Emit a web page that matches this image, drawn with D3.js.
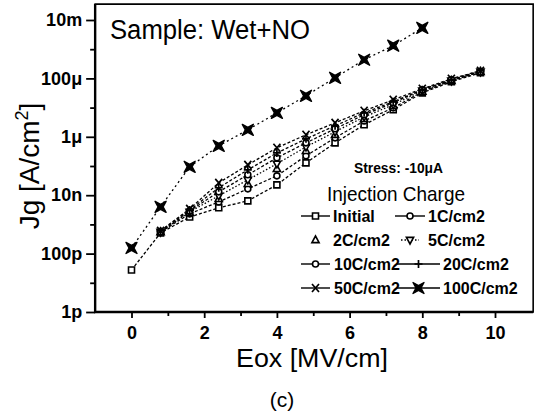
<!DOCTYPE html>
<html>
<head>
<meta charset="utf-8">
<script src="https://cdn.jsdelivr.net/npm/d3@7"></script>
<style>
  html, body { margin: 0; padding: 0; background: #fff; }
  svg { display: block; font-family: "Liberation Sans", Arial, sans-serif; }
</style>
</head>
<body>
<svg id="chart" width="537" height="417"></svg>
<script>
// Gate current density Jg (A/cm^2) vs oxide field Eox (MV/cm) after
// increasing amounts of injected charge at -10 uA stress.
const eoxField = [0, 0.8, 1.6, 2.4, 3.2, 4.0, 4.8, 5.6, 6.4, 7.2, 8.0, 8.8, 9.6];

const jgInitial = [2.75e-11, 5.1e-10, 1.8e-9, 3.7e-9, 6.4e-9, 2.26e-8, 1.28e-7, 6.2e-7, 2.58e-6, 8.4e-6, 3.2e-5, 7.7e-5, 1.56e-4];
const jg1C   = [null, 5.5e-10, 2.3e-9, 5.9e-9, 1.65e-8, 4.6e-8, 2.23e-7, 9.2e-7, 3.5e-6, 9.8e-6, 3.5e-5, 8.3e-5, 1.69e-4];
const jg2C   = [null, 5.5e-10, 2.5e-9, 7.5e-9, 2.44e-8, 8.0e-8, 3.3e-7, 1.17e-6, 4.1e-6, 1.15e-5, 3.5e-5, 8.3e-5, 1.69e-4];
const jg5C   = [null, 5.5e-10, 2.7e-9, 9.5e-9, 3.35e-8, 1.19e-7, 4.5e-7, 1.48e-6, 4.8e-6, 1.25e-5, 3.8e-5, 8.3e-5, 1.69e-4];
const jg10C  = [null, 5.5e-10, 2.9e-9, 1.3e-8, 5.0e-8, 1.9e-7, 6.2e-7, 1.88e-6, 5.7e-6, 1.46e-5, 4.1e-5, 9.0e-5, 1.69e-4];
const jg20C  = [null, 6.0e-10, 3.1e-9, 1.8e-8, 7.4e-8, 2.8e-7, 8.5e-7, 2.38e-6, 6.6e-6, 1.58e-5, 4.1e-5, 9.0e-5, 1.83e-4];
const jg50C  = [null, 6.0e-10, 3.4e-9, 2.64e-8, 1.09e-7, 4.2e-7, 1.17e-6, 3.0e-6, 7.8e-6, 1.85e-5, 4.4e-5, 9.7e-5, 1.83e-4];
const jg100C = [1.56e-10, 4.0e-9, 9.4e-8, 4.9e-7, 1.73e-6, 6.6e-6, 2.54e-5, 1.05e-4, 4.35e-4, 1.32e-3, 5.4e-3, null, null];

const seriesLabels = ["Initial", "1C/cm2", "2C/cm2", "5C/cm2", "10C/cm2", "20C/cm2", "50C/cm2", "100C/cm2"];
const seriesValues = [jgInitial, jg1C, jg2C, jg5C, jg10C, jg20C, jg50C, jg100C];
const seriesShapes = ["square", "circle", "triUp", "triDown", "circle", "plus", "cross", "star"];

const xTickValues = [0, 2, 4, 6, 8, 10];
const xMinorTicks = [1, 3, 5, 7, 9];
const yTickValues = [1e-2, 1e-4, 1e-6, 1e-8, 1e-10, 1e-12];
const yTickLabels = ["10m", "100\u03bc", "1\u03bc", "10n", "100p", "1p"];
const yMinorTicks = [1e-3, 1e-5, 1e-7, 1e-9, 1e-11];

const svg = d3.select("#chart");
svg.append("rect").attr("width", 537).attr("height", 417).attr("fill", "#fff");

const x = d3.scaleLinear().domain([0, 10]).range([131.5, 495]);
const y = d3.scaleLog().domain([1e-12, 1e-2]).range([312, 20]);

const frameL = x(-1), frameR = x(11.05), frameT = y(3.5e-2), frameB = y(1e-12);

// ---- axes ----
const yAxis = svg.append("g").attr("transform", `translate(${frameL},0)`)
  .call(d3.axisLeft(y).tickValues(yTickValues).tickFormat((d, i) => yTickLabels[i]).tickSize(9).tickPadding(4));
const yMinor = svg.append("g").attr("transform", `translate(${frameL},0)`)
  .call(d3.axisLeft(y).tickValues(yMinorTicks).tickFormat("").tickSize(5));
const xAxis = svg.append("g").attr("transform", `translate(0,${frameB})`)
  .call(d3.axisBottom(x).tickValues(xTickValues).tickFormat(d3.format("d")).tickSize(6).tickPadding(8));
const xMinor = svg.append("g").attr("transform", `translate(0,${frameB})`)
  .call(d3.axisBottom(x).tickValues(xMinorTicks).tickFormat("").tickSize(4));

[yAxis, yMinor, xAxis, xMinor].forEach(g => {
  g.select(".domain").remove();
  g.selectAll(".tick line").attr("stroke", "#000").attr("stroke-width", 1.8);
  g.selectAll(".tick text")
    .attr("fill", "#000")
    .style("font-family", '"Liberation Sans", Arial, sans-serif')
    .style("font-size", "18px")
    .style("font-weight", "bold");
});

// frame
svg.append("path")
  .attr("d", `M${frameL},${frameT}H${frameR}V${frameB}H${frameL}Z`)
  .attr("fill", "none").attr("stroke", "#000").attr("stroke-width", 1.6);
svg.append("path")
  .attr("d", `M${frameL},${frameT}V${frameB}H${frameR}`)
  .attr("fill", "none").attr("stroke", "#000").attr("stroke-width", 2.4);

// ---- series ----
const lineGen = d3.line()
  .defined(d => d[1] != null)
  .x(d => x(d[0]))
  .y(d => y(d[1]));

function markerPath(shape) {
  switch (shape) {
    case "square": return "M-3,-3H3V3H-3Z";
    case "circle": return "M3,0A3,3 0 1 1 -3,0A3,3 0 1 1 3,0Z";
    case "triUp": return "M0,-4L3.6,2.6H-3.6Z";
    case "triDown": return "M0,4L3.6,-2.6H-3.6Z";
    case "plus": return "M-4,0H4M0,-4V4";
    case "cross": return "M-3.5,-4L3.5,4M-3.5,4L3.5,-4";
    case "star": return "M-5.5,-5.5L0,-2.5L5.5,-5.5L2.5,0L5.5,5.5L0,2.5L-5.5,5.5L-2.5,0Z";
  }
}

function drawMarker(g, shape, cx, cy) {
  const p = g.append("path")
    .attr("d", markerPath(shape))
    .attr("transform", `translate(${cx},${cy})`)
    .attr("stroke", "#000");
  if (shape === "star") {
    p.attr("fill", "#000").attr("stroke-width", 1.4).attr("stroke-linejoin", "round");
  } else if (shape === "plus" || shape === "cross") {
    p.attr("fill", "none").attr("stroke-width", 1.7);
  } else {
    p.attr("fill", "#fff").attr("stroke-width", 1.6);
  }
}

const plot = svg.append("g");
const lineDash = ["3,2", "3,2", null, "1.5,2", "3,2", "3,2", "3,2", "2,3"];

seriesValues.forEach((vals, si) => {
  const pts = eoxField.map((e, i) => [e, vals[i]]);
  if (lineDash[si] !== null) {
    plot.append("path")
      .attr("d", lineGen(pts))
      .attr("fill", "none")
      .attr("stroke", "#000")
      .attr("stroke-width", 1.3)
      .attr("stroke-dasharray", lineDash[si]);
  }
});

seriesValues.forEach((vals, si) => {
  eoxField.forEach((e, i) => {
    if (vals[i] != null) drawMarker(plot, seriesShapes[si], x(e), y(vals[i]));
  });
});

// ---- text ----
const font = '"Liberation Sans", Arial, sans-serif';

svg.append("text")
  .attr("x", 110).attr("y", 39)
  .attr("font-size", 27).attr("font-family", font)
  .attr("textLength", 200).attr("lengthAdjust", "spacingAndGlyphs")
  .text("Sample: Wet+NO");

svg.append("text")
  .attr("x", 236).attr("y", 367)
  .attr("font-size", 26).attr("font-family", font)
  .attr("textLength", 152).attr("lengthAdjust", "spacingAndGlyphs")
  .text("Eox [MV/cm]");

svg.append("text")
  .attr("x", 282).attr("y", 407)
  .attr("text-anchor", "middle")
  .attr("font-size", 21).attr("font-family", font)
  .text("(c)");

const yTitle = svg.append("text")
  .attr("transform", "translate(39,166) rotate(-90)")
  .attr("text-anchor", "middle")
  .attr("font-size", 28).attr("font-family", font);
yTitle.append("tspan").text("Jg [A/cm");
yTitle.append("tspan").attr("font-size", 18).attr("dy", -11).text("2");
yTitle.append("tspan").attr("dy", 11).text("]");

// ---- legend ----
svg.append("text")
  .attr("x", 354).attr("y", 173)
  .attr("font-size", 14).attr("font-weight", "bold").attr("font-family", font)
  .attr("textLength", 89).attr("lengthAdjust", "spacingAndGlyphs")
  .text("Stress: -10\u03bcA");

svg.append("text")
  .attr("x", 327).attr("y", 201)
  .attr("font-size", 21).attr("font-family", font)
  .attr("textLength", 138).attr("lengthAdjust", "spacingAndGlyphs")
  .text("Injection Charge");

const legendRows = [216, 240, 264, 288];
const legendCells = [
  // [series index, row, line start, line end, text x]
  [0, 0, 301, 330, 333], [1, 0, 395, 425, 428],
  [2, 1, 301, 330, 333], [3, 1, 401, 419, 428],
  [4, 2, 301, 330, 334], [5, 2, 397, 440, 443],
  [6, 3, 301, 330, 334], [7, 3, 397, 440, 443]
];
const legendG = svg.append("g");
legendCells.forEach(([si, row, x1, x2, tx]) => {
  const cy = legendRows[row];
  if (lineDash[si] !== null) {
    legendG.append("line")
      .attr("x1", x1).attr("x2", x2).attr("y1", cy).attr("y2", cy)
      .attr("stroke", "#000").attr("stroke-width", 1.4)
      .attr("stroke-dasharray", si === 3 ? "1.5,2" : null);
  }
  drawMarker(legendG, seriesShapes[si], (x1 + x2) / 2, cy);
  legendG.append("text")
    .attr("x", tx).attr("y", cy + 5.5)
    .attr("font-size", 16).attr("font-weight", "bold").attr("font-family", font)
    .text(seriesLabels[si]);
});
</script>
</body>
</html>
